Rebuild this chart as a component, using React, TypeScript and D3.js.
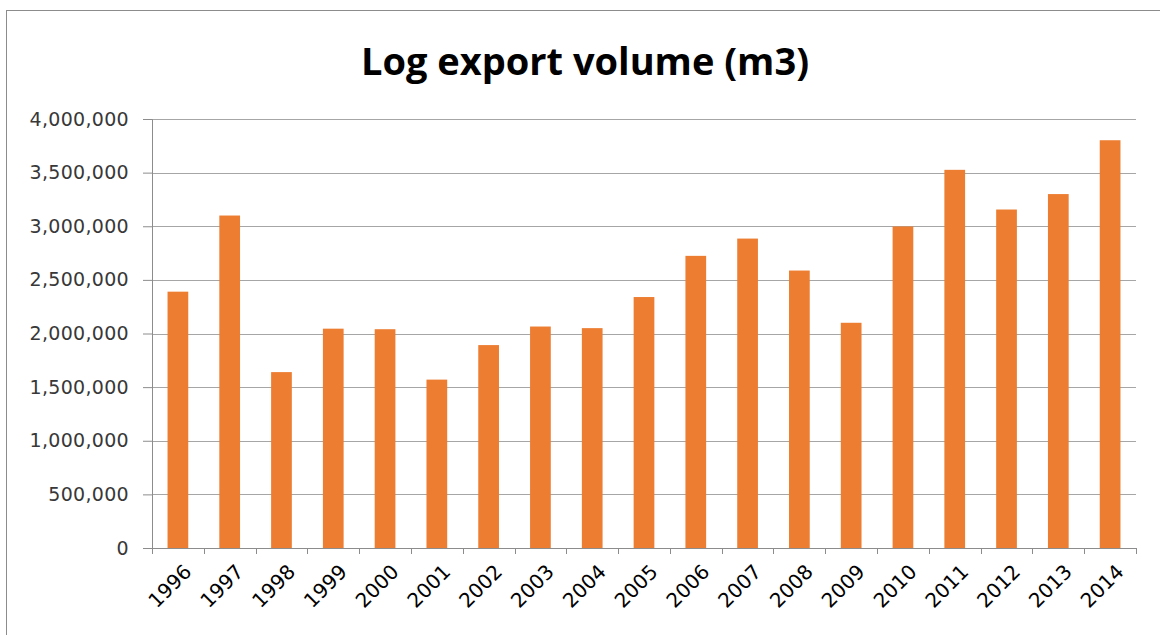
import { useEffect, useRef } from "react"
import * as d3 from "d3"

const years = ["1996", "1997", "1998", "1999", "2000", "2001", "2002", "2003", "2004", "2005", "2006", "2007", "2008", "2009", "2010", "2011", "2012", "2013", "2014"]
const volumes = [2390000, 3100000, 1640000, 2045000, 2040000, 1570000, 1892000, 2065000, 2050000, 2340000, 2724000, 2885000, 2587000, 2100000, 2998000, 3526000, 3156000, 3300000, 3802000]
const yTicks = [0, 500000, 1000000, 1500000, 2000000, 2500000, 3000000, 3500000, 4000000]

const W = 1160
const H = 635
const margin = { top: 119, right: 24, bottom: 87, left: 152 }
const TITLE_FONT = "Open Sans, sans-serif"
const TICK_FONT = "DejaVu Sans, sans-serif"

export default function App() {
  const svgRef = useRef<SVGSVGElement>(null)

  useEffect(() => {
    if (!svgRef.current) return
    const svg = d3.select(svgRef.current)
    svg.selectAll("*").remove()

    const width = W - margin.left - margin.right
    const height = H - margin.top - margin.bottom

    // outer frame (only top and left visible in the crop)
    svg.append("rect").attr("x", 6.5).attr("y", 10.5).attr("width", W + 20).attr("height", H + 20).attr("fill", "white").attr("stroke", "#8c8c8c")

    svg.append("text")
      .attr("x", 585)
      .attr("y", 75)
      .attr("text-anchor", "middle")
      .style("font-family", TITLE_FONT)
      .style("font-weight", "bold")
      .style("font-size", "38px")
      .attr("fill", "#000")
      .text("Log export volume (m3)")

    const g = svg.append("g").attr("transform", `translate(${margin.left},${margin.top})`)

    const x = d3.scaleBand().domain(years).range([0, width]).paddingInner(0.6).paddingOuter(0.3)
    const y = d3.scaleLinear().domain([0, 4000000]).range([height, 0])

    // grid lines
    g.selectAll("line.grid")
      .data(yTicks.filter((d) => d > 0))
      .enter()
      .append("line")
      .attr("class", "grid")
      .attr("x1", 0)
      .attr("x2", width)
      .attr("y1", (d) => Math.round(y(d)) + 0.5)
      .attr("y2", (d) => Math.round(y(d)) + 0.5)
      .attr("stroke", "#a6a6a6")

    // bars
    g.selectAll("rect.bar")
      .data(volumes)
      .enter()
      .append("rect")
      .attr("class", "bar")
      .attr("x", (_, i) => x(years[i]) as number)
      .attr("width", x.bandwidth())
      .attr("y", (d) => y(d))
      .attr("height", (d) => height - y(d))
      .attr("fill", "#ED7D31")

    // y axis
    const yAxis = g.append("g").call(
      d3.axisLeft(y).tickValues(yTicks).tickSize(9).tickPadding(14).tickFormat((d) => d3.format(",")(d as number))
    )
    yAxis.select(".domain").attr("stroke", "#8c8c8c").attr("d", `M-9,${height + 0.5}H0.5V0.5H-9`)
    yAxis.selectAll(".tick line").attr("stroke", "#8c8c8c")
    yAxis.selectAll(".tick text").style("font-family", TICK_FONT).style("font-size", "19px").style("letter-spacing", "0.3px").attr("fill", "#383838")

    // x axis
    g.append("line").attr("x1", 0).attr("x2", width).attr("y1", height + 0.5).attr("y2", height + 0.5).attr("stroke", "#8c8c8c")
    g.selectAll("line.xtick")
      .data(d3.range(years.length + 1))
      .enter()
      .append("line")
      .attr("class", "xtick")
      .attr("x1", (i) => Math.round(i * (width / years.length)) + 0.5)
      .attr("x2", (i) => Math.round(i * (width / years.length)) + 0.5)
      .attr("y1", height)
      .attr("y2", height + 6)
      .attr("stroke", "#8c8c8c")

    g.selectAll("text.year")
      .data(years)
      .enter()
      .append("text")
      .attr("class", "year")
      .attr("transform", (d) => `translate(${(x(d) as number) + x.bandwidth() / 2 + 10},${height + 20}) rotate(-45)`)
      .attr("text-anchor", "end")
      .attr("dy", "0.35em")
      .style("font-family", TICK_FONT)
      .style("font-size", "20px")
      .attr("fill", "#000")
      .text((d) => d)
  }, [])

  return (
    <div style={{ position: "absolute", left: 0, top: 0, width: W, height: H, background: "white" }}>
      <svg ref={svgRef} width={W} height={H} />
    </div>
  )
}
